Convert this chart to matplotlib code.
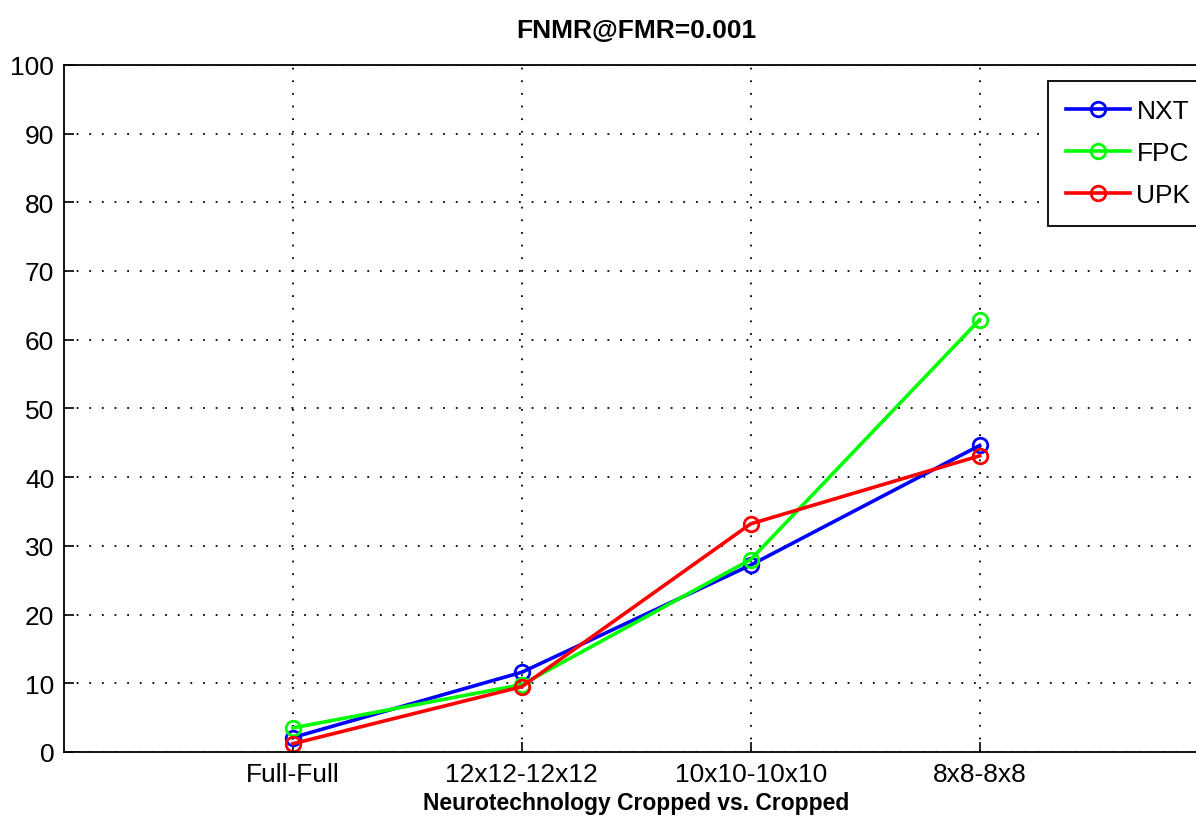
import matplotlib.pyplot as plt

# FNMR at FMR=0.001 for each matcher, cropped vs. cropped comparisons
categories = ['Full-Full', '12x12-12x12', '10x10-10x10', '8x8-8x8']
nxt = [2.1, 11.6, 27.2, 44.6]
fpc = [3.5, 9.8, 28.0, 62.9]
upk = [1.2, 9.5, 33.2, 43.1]

plt.rcParams['font.family'] = ['Liberation Sans Narrow', 'Liberation Sans', 'DejaVu Sans']

fig = plt.figure(figsize=(11.96, 8.37), dpi=100)
ax = fig.add_axes([0.0535, 0.1004, 0.957, 0.821])

x = [1, 2, 3, 4]
style = dict(marker='o', markerfacecolor='none', markersize=10.5, markeredgewidth=2, linewidth=2.6)
ax.plot(x, nxt, color='#0000ff', label='NXT', **style)
ax.plot(x, fpc, color='#00ff00', label='FPC', **style)
ax.plot(x, upk, color='#ff0000', label='UPK', **style)

ax.set_xlim(0, 5)
ax.set_ylim(0, 100)
ax.set_xticks(x)
ax.set_xticklabels(categories)
ax.set_yticks(range(0, 101, 10))
ax.tick_params(direction='in', length=7, width=1.2, labelsize=19, pad=7,
               top=False, right=False)
ax.grid(True, color='black', linestyle=(0, (1, 6)), linewidth=1.3)
for side in ax.spines.values():
    side.set_linewidth(1.3)

ax.set_xlabel('Neurotechnology Cropped vs. Cropped', fontsize=16.5, fontweight='bold', labelpad=4)
ax.set_title('FNMR@FMR=0.001', fontsize=19, fontweight='bold', pad=20)

leg = ax.legend(loc='upper left', bbox_to_anchor=(1048 / 1196, 1 - 82 / 837),
                bbox_transform=fig.transFigure, borderaxespad=0,
                fontsize=19, fancybox=False, framealpha=1, edgecolor='black',
                handlelength=2.4, handletextpad=0.25, labelspacing=0.68, borderpad=0.7)
leg.get_frame().set_linewidth(1.3)

fig.savefig('out.png', dpi=100)
